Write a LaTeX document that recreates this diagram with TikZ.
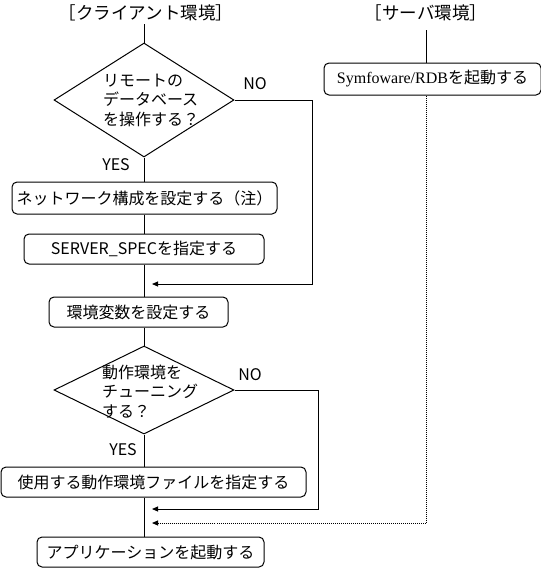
\documentclass[tikz,border=0pt]{standalone}
\usepackage{fontspec}
\setmainfont{Noto Sans CJK JP}
\newfontfamily\romanfont{Liberation Serif}
\usetikzlibrary{shapes.geometric,arrows.meta}

\begin{document}
\begin{tikzpicture}[x=1pt,y=-1pt,line width=1pt,
    txt/.style = {inner sep=0pt,font=\fontsize{16}{19.5}\selectfont},
    head/.style = {inner sep=0pt,font=\fontsize{17.5}{20}\selectfont},
    box/.style = {draw,rounded corners=5pt,inner sep=0pt,font=\fontsize{16}{19.5}\selectfont},
    ask/.style = {draw,diamond,inner sep=0pt},
    arr/.style = {-{Triangle[length=6pt,width=5pt]}},
    dots/.style = {dash pattern=on 1pt off 1pt}]
    \useasboundingbox (0,0) rectangle (541,568);
    \node at (146,13) [head] (1) {［クライアント環境］};
    \node at (426,13) [head] (2) {［サーバ環境］};
    \node at (144,100) [ask,minimum width=180pt,minimum height=114pt] (3) {};
    \node at (151,100) [txt,align=left] (3t) {リモートの\\データベース\\を操作する？};
    \node at (144.5,198) [box,minimum width=265pt,minimum height=32pt] (4) {ネットワーク構成を設定する（注）};
    \node at (144,249) [box,minimum width=240pt,minimum height=30pt] (5) {SERVER\_SPECを指定する};
    \node at (138.5,312) [box,minimum width=179pt,minimum height=30pt] (6) {環境変数を設定する};
    \node at (144,390) [ask,minimum width=180pt,minimum height=88pt] (7) {};
    \node at (150,391.5) [txt,align=left] (7t) {動作環境を\\チューニング\\する？};
    \node at (153.5,482) [box,minimum width=305pt,minimum height=30pt] (8) {使用する動作環境ファイルを指定する};
    \node at (150.5,552) [box,minimum width=227pt,minimum height=30pt] (9) {アプリケーションを起動する};
    \node at (432.5,79) [box,minimum width=217pt,minimum height=32pt] (10) {{\romanfont Symfoware/RDB}を起動する};
    \node at (255,84) [txt] (11) {NO};
    \node at (250,375) [txt] (12) {NO};
    \node at (116,165) [txt] (13) {YES};
    \node at (123,450) [txt] (14) {YES};
    \coordinate (n1) at (312,284);
    \coordinate (m1) at (152,284);
    \coordinate (n2) at (318,509);
    \coordinate (m2) at (152,509);
    \coordinate (m3) at (152,523);
    \draw (3.north |- 0,24) -- (3.north);
    \draw (3.south) -- (3.south |- 4.north);
    \draw (3.south |- 4.south) -- (3.south |- 5.north);
    \draw (3.south |- 5.south) -- (3.south |- 6.north);
    \draw (3.south |- 6.south) -- (7.north);
    \draw (7.south) -- (7.south |- 8.north);
    \draw (7.south |- 8.south) -- (7.south |- 9.north);
    \draw (426,30) -- (10.north -| 426,0);
    \draw[arr] (3.east) -| (n1) -- (m1);
    \draw[arr] (7.east) -| (n2) -- (m2);
    \draw[arr,dots] (10.south -| 426,0) |- (m3);
\end{tikzpicture}
\end{document}
